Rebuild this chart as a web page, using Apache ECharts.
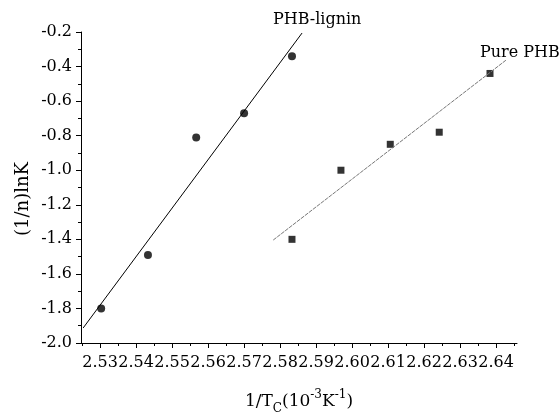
<!DOCTYPE html>
<html>
<head>
<meta charset="utf-8">
<script src="https://cdn.jsdelivr.net/npm/echarts@6/dist/echarts.min.js"></script>
<style>
  html, body { margin: 0; padding: 0; background: #fff; }
  #main { width: 559px; height: 415px; }
</style>
</head>
<body>
<div id="main"></div>
<script>
// 数据点 (PHB-lignin: 圆点, Pure PHB: 方块)
var lignX = [2.5303, 2.5433, 2.5567, 2.5700, 2.5833];
var lignY = [-1.80, -1.49, -0.81, -0.67, -0.34];
var pureX = [2.5833, 2.5969, 2.6106, 2.6242, 2.6383];
var pureY = [-1.40, -1.00, -0.85, -0.78, -0.44];
// 拟合直线端点
var lignFitX = [2.5253, 2.5861];
var lignFitY = [-1.913, -0.206];
var pureFitX = [2.5781, 2.6428];
var pureFitY = [-1.404, -0.362];
// 刻度
var xMajor = [2.53, 2.54, 2.55, 2.56, 2.57, 2.58, 2.59, 2.60, 2.61, 2.62, 2.63, 2.64];
var xMinor = [2.525, 2.535, 2.545, 2.555, 2.565, 2.575, 2.585, 2.595, 2.605, 2.615, 2.625, 2.635, 2.645];

function pairs(xs, ys) {
    return xs.map(function (x, i) { return [x, ys[i]]; });
}

var font = 'DejaVu Serif';
var chart = echarts.init(document.getElementById('main'));
var option = {
    backgroundColor: '#fff',
    animation: false,
    grid: { left: 81, right: 42, top: 32, bottom: 72, outerBoundsMode: 'none', containLabel: false },
    xAxis: [
        {
            type: 'value',
            min: 2.5247,
            max: 2.6458,
            splitLine: { show: false },
            axisLine: { show: true, onZero: false, lineStyle: { color: '#000', width: 1 } },
            axisTick: { show: true, length: 5, customValues: xMajor, lineStyle: { color: '#000' } },
            axisLabel: {
                customValues: xMajor,
                margin: 12,
                color: '#000',
                fontFamily: font,
                fontSize: 16,
                formatter: function (v) { return v.toFixed(2); }
            },
            name: '{a|1/T}{sub|C}{a|(10}{sup|-3}{a|K}{sup|-1}{a|)}',
            nameLocation: 'middle',
            nameGap: 46,
            nameTextStyle: {
                rich: {
                    a: { fontFamily: font, fontSize: 17, color: '#000', lineHeight: 26, verticalAlign: 'middle' },
                    sub: { fontFamily: font, fontSize: 12, color: '#000', lineHeight: 26, verticalAlign: 'bottom' },
                    sup: { fontFamily: font, fontSize: 12, color: '#000', lineHeight: 26, verticalAlign: 'top' }
                }
            }
        },
        {
            type: 'value',
            min: 2.5247,
            max: 2.6458,
            position: 'bottom',
            splitLine: { show: false },
            axisLine: { show: false },
            axisTick: { show: true, length: 3, customValues: xMinor, lineStyle: { color: '#000' } },
            axisLabel: { show: false }
        }
    ],
    yAxis: {
        type: 'value',
        min: -2.0,
        max: -0.2,
        interval: 0.2,
        splitLine: { show: false },
        axisLine: { show: true, onZero: false, lineStyle: { color: '#000', width: 1 } },
        axisTick: { show: true, length: 5, lineStyle: { color: '#000' } },
        minorTick: { show: true, splitNumber: 2, length: 3, lineStyle: { color: '#000' } },
        axisLabel: {
            margin: 9,
            color: '#000',
            fontFamily: font,
            fontSize: 16,
            formatter: function (v) { return v.toFixed(1); }
        }
    },
    graphic: [
        {
            type: 'text', x: 23, y: 199, rotation: Math.PI / 2,
            style: { text: '(1/n)lnK', fontFamily: font, fontSize: 18, fill: '#000', align: 'center', verticalAlign: 'middle' }
        },
        { type: 'text', left: 273, top: 12, style: { text: 'PHB-lignin', fontFamily: font, fontSize: 16, fill: '#000' } },
        { type: 'text', left: 480, top: 45, style: { text: 'Pure PHB', fontFamily: font, fontSize: 16, fill: '#000' } }
    ],
    series: [
        {
            type: 'line',
            data: pairs(lignFitX, lignFitY),
            symbol: 'none',
            lineStyle: { color: '#000', width: 1 },
            silent: true
        },
        {
            type: 'line',
            data: pairs(pureFitX, pureFitY),
            symbol: 'none',
            lineStyle: { color: '#777', width: 1, type: [4, 1] },
            silent: true
        },
        {
            name: 'PHB-lignin',
            type: 'scatter',
            data: pairs(lignX, lignY),
            symbol: 'circle',
            symbolSize: 8,
            itemStyle: { color: '#000' }
        },
        {
            name: 'Pure PHB',
            type: 'scatter',
            data: pairs(pureX, pureY),
            symbol: 'rect',
            symbolSize: 7,
            itemStyle: { color: '#000' }
        }
    ]
};
chart.setOption(option);
</script>
</body>
</html>
